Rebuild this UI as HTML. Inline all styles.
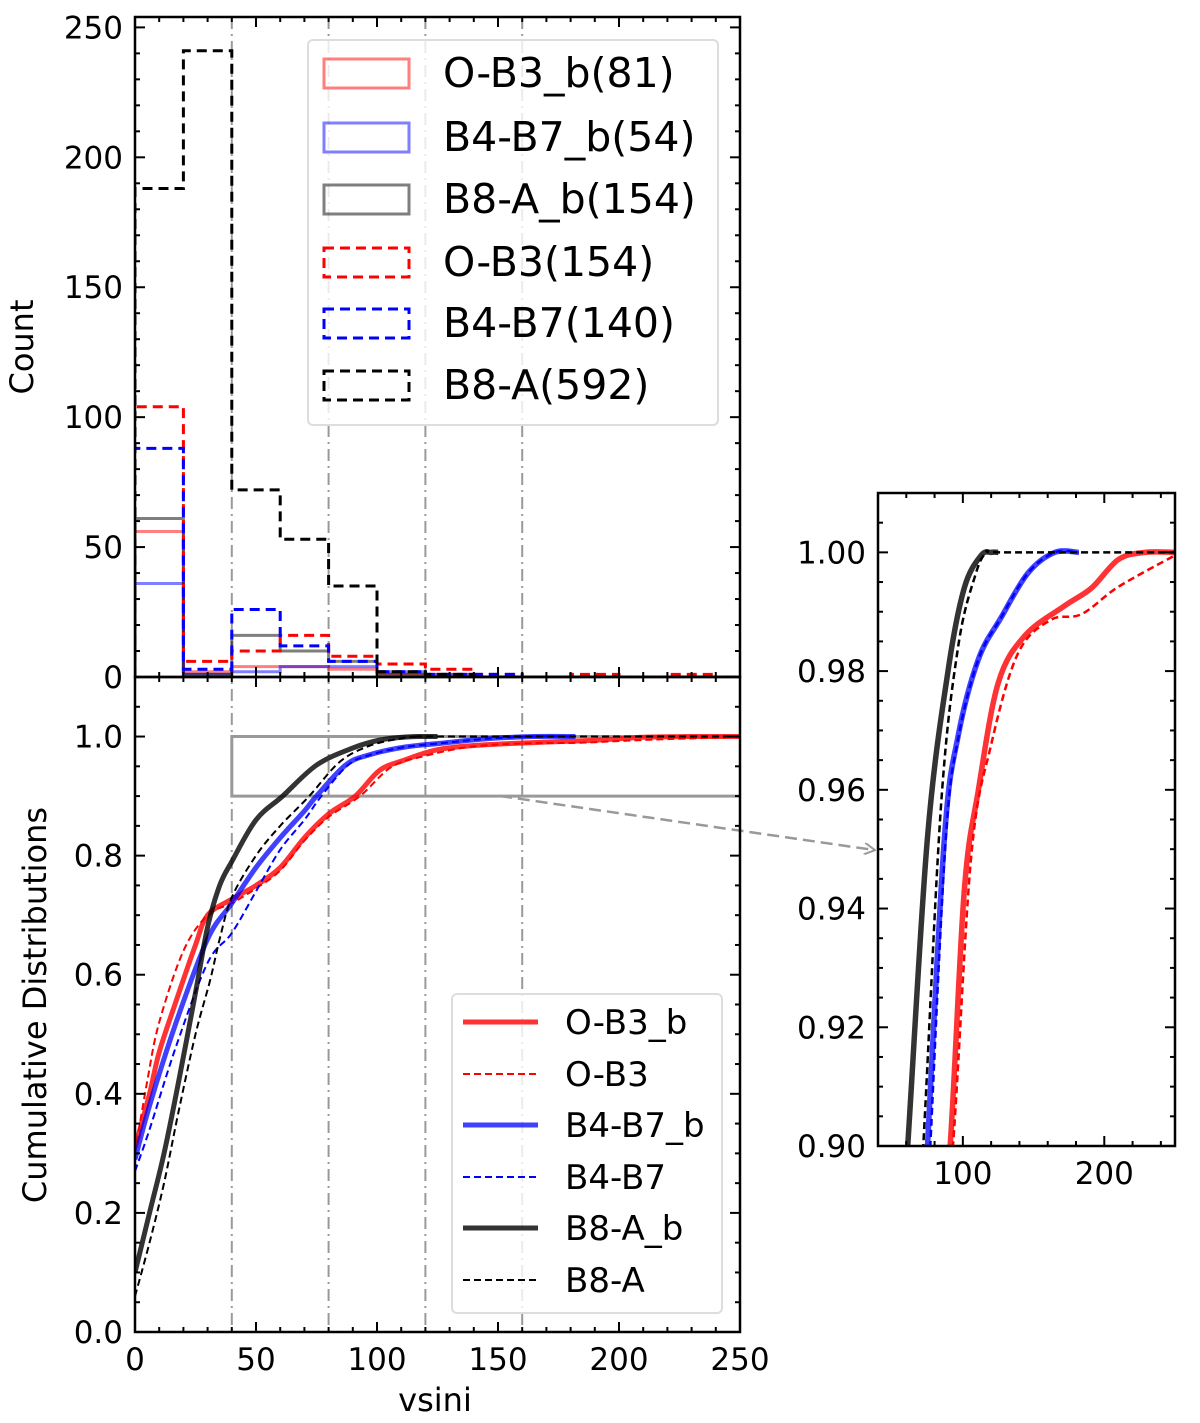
<!DOCTYPE html>
<html><head><meta charset="utf-8">
<style>
html,body{margin:0;padding:0;background:#fff;overflow:hidden;width:1200px;height:1423px;}
svg{display:block;font-family:"DejaVu Sans","Liberation Sans",sans-serif;}
</style></head>
<body>
<svg id="fig" width="1200" height="1423" viewBox="0 0 1200 1423" xmlns="http://www.w3.org/2000/svg">
<defs>
<clipPath id="clipTop"><rect x="135" y="17" width="605" height="660"/></clipPath>
<clipPath id="clipBot"><rect x="135" y="677" width="605" height="655"/></clipPath>
<clipPath id="clipIn"><rect x="878" y="493" width="297" height="653"/></clipPath>
<marker id="arrowHead" markerWidth="12" markerHeight="12" refX="10" refY="6" orient="auto" markerUnits="userSpaceOnUse"><path d="M0,0 L11,6 L0,12" fill="none" stroke="#999" stroke-width="2"/></marker>
</defs>
<g id="layer"></g>
</svg>
<script>
// ---- histogram data (bin edges of width 20) ----
const binEdges = [0,20,40,60,80,100,120,140,160,180,200,220,240,260];
const histOB3b = [56,2,4,4,3,1,1,0,0,0,0,0,0];
const histB4B7b = [36,1,2,4,4,2,1,0,0,0,0,0,0];
const histB8Ab = [61,1,16,10,6,1,0,0,0,0,0,0,0];
const histOB3 = [104,6,10,16,8,5,3,1,0,1,0,1,0];
const histB4B7 = [88,3,26,12,6,2,1,1,0,0,0,0,0];
const histB8A = [188,241,72,53,35,2,1,0,0,0,0,0,0];
const histTicks = [0,50,100,150,200,250];
const xTicks = [0,50,100,150,200,250];
const histLabels = ["O-B3_b(81)","B4-B7_b(54)","B8-A_b(154)","O-B3(154)","B4-B7(140)","B8-A(592)"];
// ---- cumulative distribution data: vsini, CDF ----
const cdfX_OB3b = [0,6,10,17,25,30,40,50,60,70,80,91,101,111,125,144,172,191,210,229,250];
const cdfY_OB3b = [0.31,0.40,0.47,0.556,0.65,0.70,0.727,0.75,0.78,0.83,0.87,0.90,0.943,0.96,0.978,0.986,0.991,0.994,0.9988,1.0,1.0];
const cdfX_OB3 = [0,5,10,20,30,40,50,60,70,80,93,106,120,139,162,184,210,250];
const cdfY_OB3 = [0.30,0.42,0.52,0.64,0.70,0.72,0.745,0.775,0.825,0.865,0.90,0.949,0.9676,0.983,0.9886,0.9896,0.9942,0.9995];
const cdfX_B4B7b = [0,6,17,30,40,50,60,70,75,87,96.6,111,127,146,165,182];
const cdfY_B4B7b = [0.29,0.38,0.52,0.66,0.72,0.78,0.83,0.875,0.90,0.952,0.969,0.982,0.989,0.9965,1.0,1.0];
const cdfX_B4B7 = [0,6,17,30,40,50,60,70,77,88,97,111,127,146,165,182];
const cdfY_B4B7 = [0.27,0.34,0.48,0.62,0.67,0.74,0.81,0.86,0.90,0.952,0.969,0.982,0.989,0.9965,1.0,1.0];
const cdfX_B8Ab = [0,6,12,18,25,30,35,40,50,61,75,89.5,101,113,120,125];
const cdfY_B8Ab = [0.10,0.20,0.30,0.42,0.57,0.68,0.75,0.79,0.86,0.90,0.952,0.980,0.994,0.9995,1.0,1.0];
const cdfX_B8A = [0,6,12,18,25,31,35,40,50,60,72,84.6,96.6,108.6,117,130,250];
const cdfY_B8A = [0.06,0.15,0.25,0.37,0.50,0.59,0.66,0.73,0.80,0.85,0.90,0.9575,0.984,0.996,1.0,1.0,1.0];
const cdfTicks = [0,0.2,0.4,0.6,0.8,1.0];
const insetYTicks = [0.90,0.92,0.94,0.96,0.98,1.00];
const insetXTicks = [100,200];
const cdfLabels = ["O-B3_b","O-B3","B4-B7_b","B4-B7","B8-A_b","B8-A"];

const NS="http://www.w3.org/2000/svg";
const layer=document.getElementById('layer');
function mk(tag,attrs,parent){const e=document.createElementNS(NS,tag);for(const k in attrs)e.setAttribute(k,attrs[k]);(parent||layer).appendChild(e);return e;}

const xMain = v => 135 + v*605/250;
const yHist = v => 677 - v*660/254;
const yCdf = v => 1332 - v*655/1.1;
const xIn = v => 878 + (v-40)*297/210;
const yIn = v => 1146 - (v-0.9)*653/0.11;

[40,80,120,160].forEach(v=>{
  const l=mk('line',{x1:xMain(v),x2:xMain(v),y1:17,y2:1332,stroke:'#999','stroke-width':2,'stroke-dasharray':'12,5,2,5'});
  
  
});

function stepPath(vals){
  let d='M'+xMain(binEdges[0])+','+yHist(0);
  for(let i=0;i<vals.length;i++){
    d+=' L'+xMain(binEdges[i])+','+yHist(vals[i])+' L'+xMain(binEdges[i+1])+','+yHist(vals[i]);
  }
  d+=' L'+xMain(binEdges[vals.length])+','+yHist(0);
  return d;
}
const gTop=mk('g',{'clip-path':'url(#clipTop)'});


const histSeries=[
 [histOB3b,'rgba(255,0,0,0.5)',null,'hist-o-b3-b'],
 [histB4B7b,'rgba(0,0,255,0.5)',null,'hist-b4-b7-b'],
 [histB8Ab,'rgba(0,0,0,0.5)',null,'hist-b8-a-b'],
 [histOB3,'#ff0000','10,6','hist-o-b3'],
 [histB4B7,'#0000ff','10,6','hist-b4-b7'],
 [histB8A,'#000000','10,6','hist-b8-a']];
histSeries.forEach(s=>{
  const a={d:stepPath(s[0]),fill:'none',stroke:s[1],'stroke-width':3};
  if(s[2])a['stroke-dasharray']=s[2];
  const p=mk('path',a,gTop);
  
  
});

function smoothPath(xs,ys,fx,fy){
  const P=xs.map((x,i)=>[fx(x),fy(ys[i])]);
  let d='M'+P[0][0]+','+P[0][1];
  for(let i=0;i<P.length-1;i++){
    const p0=P[Math.max(i-1,0)],p1=P[i],p2=P[i+1],p3=P[Math.min(i+2,P.length-1)];
    const c1=[p1[0]+(p2[0]-p0[0])/6,p1[1]+(p2[1]-p0[1])/6];
    const c2=[p2[0]-(p3[0]-p1[0])/6,p2[1]-(p3[1]-p1[1])/6];
    d+=' C'+c1[0]+','+c1[1]+' '+c2[0]+','+c2[1]+' '+p2[0]+','+p2[1];
  }
  return d;
}
const cdfSeries=[
 [cdfX_OB3b,cdfY_OB3b,'rgba(255,0,0,0.8)',5,null,'cdf-o-b3-b'],
 [cdfX_OB3,cdfY_OB3,'#ff0000',2,'7,4','cdf-o-b3'],
 [cdfX_B4B7b,cdfY_B4B7b,'rgba(0,0,255,0.75)',5,null,'cdf-b4-b7-b'],
 [cdfX_B4B7,cdfY_B4B7,'#0000ff',2,'7,4','cdf-b4-b7'],
 [cdfX_B8Ab,cdfY_B8Ab,'rgba(0,0,0,0.8)',5,null,'cdf-b8-a-b'],
 [cdfX_B8A,cdfY_B8A,'#000000',2,'7,4','cdf-b8-a']];
const gBot=mk('g',{'clip-path':'url(#clipBot)'});


const zb=mk('polyline',{points:[xMain(250)+','+yCdf(1),xMain(40)+','+yCdf(1),xMain(40)+','+yCdf(0.9),xMain(250)+','+yCdf(0.9)].join(' '),fill:'none',stroke:'#999','stroke-width':3},gBot);


cdfSeries.forEach(s=>{
  const a={d:smoothPath(s[0],s[1],xMain,yCdf),fill:'none',stroke:s[2],'stroke-width':s[3],'stroke-linejoin':'round'};
  if(s[4])a['stroke-dasharray']=s[4];
  const p=mk('path',a,gBot);
  
  
});
const gIn=mk('g',{'clip-path':'url(#clipIn)'});


cdfSeries.forEach(s=>{
  const a={d:smoothPath(s[0],s[1],xIn,yIn),fill:'none',stroke:s[2],'stroke-width':s[3]+0.5,'stroke-linejoin':'round'};
  if(s[4])a['stroke-dasharray']=s[4];
  const p=mk('path',a,gIn);
  
  
});

const ar=mk('line',{x1:500,y1:796,x2:874,y2:850,stroke:'#999','stroke-width':2.5,'stroke-dasharray':'12,6','marker-end':'url(#arrowHead)'});



function ticks(x0,x1,y0,y1,xs,xmaj,fx,ys,ymaj,fy,name){
  const g=mk('g',{stroke:'#000','stroke-width':2});
  
  
  xs.forEach(v=>{const L=(Math.abs(v/xmaj-Math.round(v/xmaj))<1e-6)?10:5;const X=fx(v);
    mk('line',{x1:X,x2:X,y1:y1,y2:y1-L},g);mk('line',{x1:X,x2:X,y1:y0,y2:y0+L},g);});
  ys.forEach(v=>{const L=(Math.abs(v/ymaj-Math.round(v/ymaj))<1e-6)?10:5;const Y=fy(v);
    mk('line',{x1:x0,x2:x0+L,y1:Y,y2:Y},g);mk('line',{x1:x1,x2:x1-L,y1:Y,y2:Y},g);});
}
const rng=(a,b,s)=>{const r=[];for(let v=a;v<=b+1e-9;v+=s)r.push(+v.toFixed(4));return r;};
ticks(135,740,17,677,rng(0,250,10),50,xMain,rng(0,250,10),50,yHist,'hist');
ticks(135,740,677,1332,rng(0,250,10),50,xMain,rng(0,1.1,0.05),0.2,yCdf,'cdf');
ticks(878,1175,493,1146,rng(40,240,20),100,xIn,rng(0.9,1.01,0.005),0.02,yIn,'inset');

[[135,17,605,660,'hist-frame'],[135,677,605,655,'cdf-frame'],[878,493,297,653,'inset-frame']].forEach(f=>{
  const r=mk('rect',{x:f[0],y:f[1],width:f[2],height:f[3],fill:'none',stroke:'#000','stroke-width':2.5});
  
  
});

function txt(s,x,y,size,anchor,name,extra){
  const t=mk('text',Object.assign({x:x,y:y,'font-size':size,'text-anchor':anchor||'middle',fill:'#000'},extra||{}));
  t.textContent=s;
  
  
  return t;
}
histTicks.forEach(v=>txt(String(v),123,yHist(v)+11,31,'end','hist-ytick-'+v));
cdfTicks.forEach(v=>txt(v.toFixed(1),123,yCdf(v)+11,31,'end','cdf-ytick-'+v));
xTicks.forEach(v=>txt(String(v),xMain(v),1370,31,'middle','xtick-'+v));
insetYTicks.forEach(v=>txt(v.toFixed(2),866,yIn(v)+11,31,'end','inset-ytick-'+v));
insetXTicks.forEach(v=>txt(String(v),xIn(v),1184,31,'middle','inset-xtick-'+v));
txt('Count',33,347,32,'middle','y-axis-title-count',{transform:'rotate(-90 33 347)'});
txt('Cumulative Distributions',46,1005,32,'middle','y-axis-title-cdf',{transform:'rotate(-90 46 1005)'});
txt('vsini',435,1411,32,'middle','x-axis-title');

const lg1=mk('rect',{x:308,y:40,width:410,height:385,rx:5,fill:'rgba(255,255,255,0.8)',stroke:'#ddd','stroke-width':2});


const legRows=[73,137,199,262,323,385];
histSeries.forEach((s,i)=>{
  const a={x:324,y:legRows[i]-14,width:85,height:29,fill:'none',stroke:s[1],'stroke-width':3};
  if(s[2])a['stroke-dasharray']='10,6';
  const r=mk('rect',a);
  
  
  txt(histLabels[i],443,legRows[i]+14,41,'start','hist-legend-label-'+i);
});
const lg2=mk('rect',{x:452,y:994,width:270,height:319,rx:5,fill:'rgba(255,255,255,0.8)',stroke:'#ddd','stroke-width':2});


const leg2Rows=[1022,1074,1125,1177,1228,1280];
cdfSeries.forEach((s,i)=>{
  const a={x1:463,x2:538,y1:leg2Rows[i],y2:leg2Rows[i],stroke:s[2],'stroke-width':s[3]};
  if(s[4])a['stroke-dasharray']=s[4];
  const l=mk('line',a);
  
  
  txt(cdfLabels[i],565,leg2Rows[i]+12,34,'start','cdf-legend-label-'+i);
});
</script>
</body></html>
